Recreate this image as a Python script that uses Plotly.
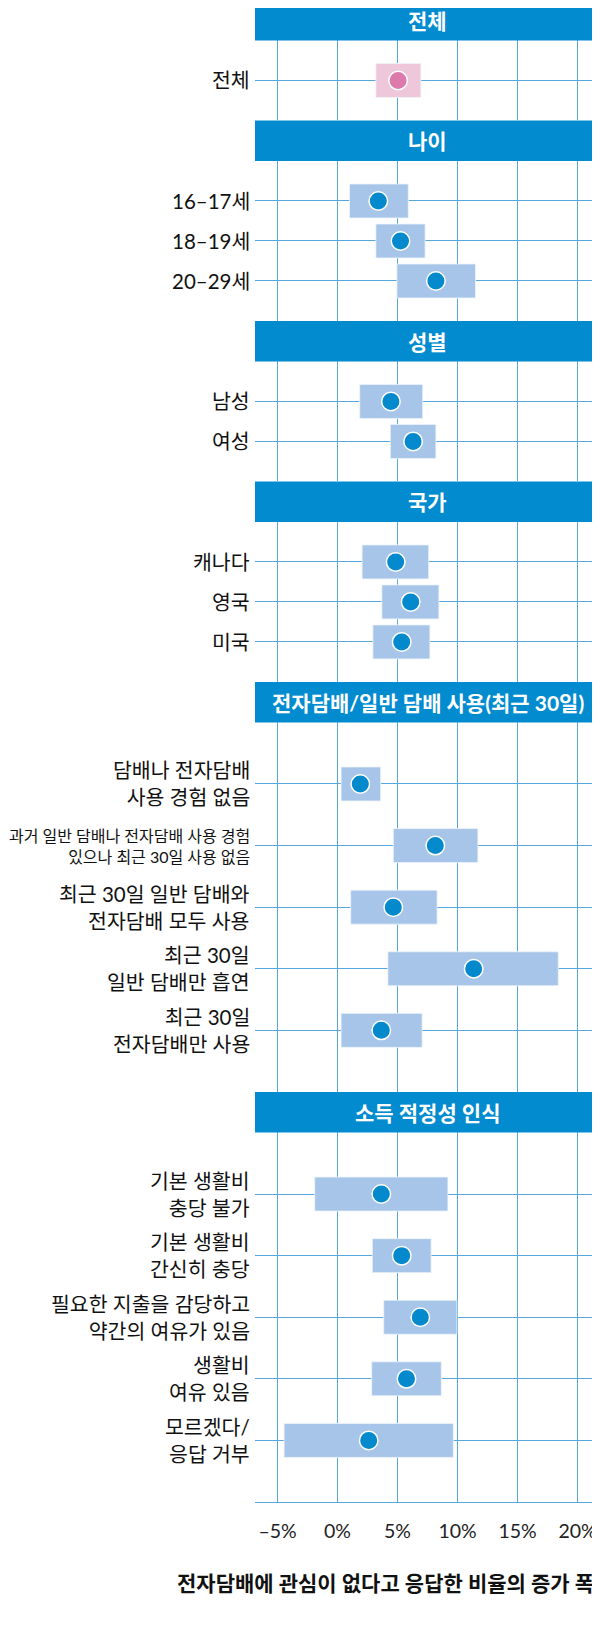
import plotly.graph_objects as go

# 각 구간 제목
sections = ["전체", "나이", "성별", "국가",
            "전자담배/일반 담배 사용(최근 30일)", "소득 적정성 인식"]

# 전체
total_labels = ["전체"]
total_est = [5.05]
total_low = [3.2]
total_high = [6.95]

# 나이
age_labels = ["16–17세", "18–19세", "20–29세"]
age_est = [3.4, 5.25, 8.2]
age_low = [1.0, 3.2, 4.95]
age_high = [5.9, 7.3, 11.5]

# 성별
sex_labels = ["남성", "여성"]
sex_est = [4.45, 6.3]
sex_low = [1.85, 4.4]
sex_high = [7.1, 8.2]

# 국가
country_labels = ["캐나다", "영국", "미국"]
country_est = [4.85, 6.1, 5.35]
country_low = [2.05, 3.7, 2.95]
country_high = [7.6, 8.45, 7.7]

# 전자담배/일반 담배 사용
use_labels = ["담배나 전자담배<br>사용 경험 없음",
              "과거 일반 담배나 전자담배 사용 경험<br>있으나 최근 30일 사용 없음",
              "최근 30일 일반 담배와<br>전자담배 모두 사용",
              "최근 30일<br>일반 담배만 흡연",
              "최근 30일<br>전자담배만 사용"]
use_est = [1.9, 8.15, 4.65, 11.35, 3.65]
use_low = [0.3, 4.65, 1.1, 4.2, 0.3]
use_high = [3.6, 11.7, 8.3, 18.4, 7.05]

# 소득 적정성 인식
income_labels = ["기본 생활비<br>충당 불가",
                 "기본 생활비<br>간신히 충당",
                 "필요한 지출을 감당하고<br>약간의 여유가 있음",
                 "생활비<br>여유 있음",
                 "모르겠다/<br>응답 거부"]
income_est = [3.65, 5.35, 6.9, 5.75, 2.6]
income_low = [-1.9, 2.9, 3.85, 2.85, -4.45]
income_high = [9.2, 7.8, 9.95, 8.65, 9.65]

tick_vals = [-5, 0, 5, 10, 15, 20]
tick_text = ["–5%", "0%", "5%", "10%", "15%", "20%"]
x_title = "전자담배에 관심이 없다고 응답한 비율의 증가 폭"

panels = [
    (total_labels, total_est, total_low, total_high),
    (age_labels, age_est, age_low, age_high),
    (sex_labels, sex_est, sex_low, sex_high),
    (country_labels, country_est, country_low, country_high),
    (use_labels, use_est, use_low, use_high),
    (income_labels, income_est, income_low, income_high),
]

# 레이아웃 (페이지 픽셀, body 여백 8px 보정)
PAD = 8
W, H = 600 - PAD, 1650 - 2 * PAD
LEFT = 255
HEADER = 40.5
UNITS = [40, 40, 40, 40, 61.6, 61.6]
BAR_PX = 34
FONT = "Lato, 'Noto Sans CJK KR', sans-serif"
BLUE = "#038bcf"
GRID = "#55a7de"
BAR = "#a7c5e8"
DOT = "#0389cc"

heights = [u * (len(p[0]) + 1) for u, p in zip(UNITS, panels)]
plot_bottom = sum(heights) + HEADER * len(panels)   # 페이지 기준
plot_h = plot_bottom - PAD


def py(y):
    # 페이지 y 픽셀 -> paper 좌표
    return (plot_bottom - y) / plot_h


fig = go.Figure()
layout = {}
shapes = []
annotations = []

top = 0
for i, (labels, est, low, high) in enumerate(panels):
    n = len(labels)
    sfx = "" if i == 0 else str(i + 1)
    last = i == len(panels) - 1
    bar_col = "#efc7da" if i == 0 else BAR
    dot_col = "#dc7aab" if i == 0 else DOT

    head_top = top
    grid_top = top + HEADER
    grid_bot = grid_top + heights[i]
    top = grid_bot

    fig.add_trace(go.Bar(
        y=list(range(n)), x=[h - l for h, l in zip(high, low)], base=low,
        orientation="h", width=BAR_PX / UNITS[i],
        marker=dict(color=bar_col, line=dict(color="#eef4fb", width=0.8)),
        xaxis="x" + sfx, yaxis="y" + sfx, hoverinfo="skip"))
    fig.add_trace(go.Scatter(
        y=list(range(n)), x=est, mode="markers",
        marker=dict(size=18.5, color=dot_col, line=dict(color="white", width=1.5)),
        xaxis="x" + sfx, yaxis="y" + sfx))

    layout["xaxis" + sfx] = dict(
        domain=[0, 1], range=[-6.875, 21.875], anchor="y" + sfx,
        tickvals=tick_vals, ticktext=tick_text, showticklabels=last,
        showgrid=True, gridcolor=GRID, gridwidth=1.3, zeroline=False,
        showline=last, linecolor=GRID, linewidth=1.3,
        ticks="", ticklabelstandoff=11,
        tickfont=dict(family=FONT, size=19.5, color="#222"))
    layout["yaxis" + sfx] = dict(
        domain=[max(py(grid_bot), 0), min(py(grid_top), 1)],
        range=[n, -1], anchor="x" + sfx,
        tickvals=list(range(n)), showticklabels=False,
        showgrid=True, gridcolor=GRID, gridwidth=1.3, zeroline=False)

    shapes.append(dict(
        type="rect", xref="paper", yref="paper", x0=0, x1=1,
        y0=py(grid_top), y1=py(head_top),
        fillcolor=BLUE, line=dict(width=0), layer="above"))
    annotations.append(dict(
        xref="paper", yref="paper", x=0.5, y=py(head_top + HEADER / 2),
        text="<b>" + sections[i] + "</b>", showarrow=False,
        xanchor="center", yanchor="middle",
        font=dict(family=FONT, size=21, color="white")))

    for k, lab in enumerate(labels):
        size = 16 if lab.startswith("과거") else 20.5
        annotations.append(dict(
            xref="x" + sfx + " domain", yref="y" + sfx, x=0, y=k,
            xanchor="right", yanchor="middle", xshift=-3, align="right",
            text=lab, showarrow=False,
            font=dict(family=FONT, size=size, color="#111")))

annotations.append(dict(
    xref="paper", yref="paper", x=1, xshift=-4, y=py(1583),
    xanchor="right", yanchor="middle", showarrow=False,
    text="<b>" + x_title + "</b>",
    font=dict(family=FONT, size=21, color="#111")))

fig.update_layout(
    width=W, height=H,
    margin=dict(l=LEFT - PAD, r=0, t=0, b=H - plot_h),
    plot_bgcolor="white", paper_bgcolor="white",
    showlegend=False, shapes=shapes, annotations=annotations,
    **layout)

fig.write_html("out.html")
